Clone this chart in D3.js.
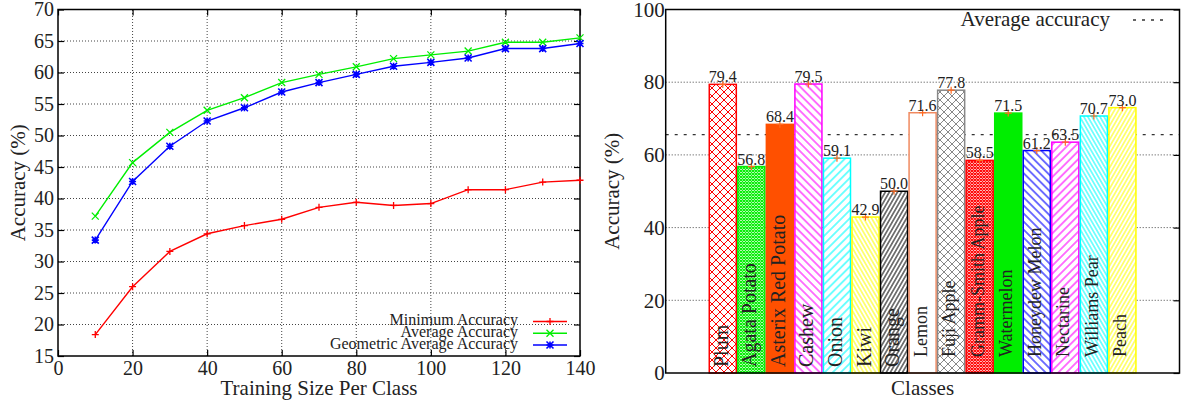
<!DOCTYPE html>
<html><head><meta charset="utf-8">
<script src="https://cdn.jsdelivr.net/npm/d3@7"></script>
<style>
html,body{margin:0;padding:0;background:#fff;}
svg{display:block;font-family:"Liberation Serif","Times New Roman",serif;}
</style></head>
<body>
<svg id="c" width="1181" height="404"></svg>
<script>
// ---------- data ----------
const trainSizes = [10,20,30,40,50,60,70,80,90,100,110,120,130,140];
const minAcc = [18.4,26.0,31.6,34.4,35.7,36.7,38.6,39.4,38.9,39.2,41.4,41.4,42.6,42.9];
const avgAcc = [37.2,45.7,50.5,54.0,56.0,58.4,59.7,60.9,62.2,62.8,63.4,64.8,64.8,65.5];
const geoAcc = [33.4,42.7,48.3,52.3,54.4,56.9,58.4,59.7,61.0,61.6,62.3,63.8,63.8,64.6];
const seriesNames = ["Minimum Accuracy","Average Accuracy","Geometric Average Accuracy"];
const leftYTicks = [15,20,25,30,35,40,45,50,55,60,65,70];
const leftXTicks = [0,20,40,60,80,100,120,140];

const classes = ["Plum","Agata Potato","Asterix Red Potato","Cashew","Onion","Kiwi","Orange","Lemon","Fuji Apple","Gramm-Smith Apple","Watermelon","Honeydew Melon","Nectarine","Williams Pear","Peach"];
const classAcc = [79.4,56.8,68.4,79.5,59.1,42.9,50.0,71.6,77.8,58.5,71.5,61.2,63.5,70.7,73.0];
const rightYTicks = [0,20,40,60,80,100];

// ---------- styles ----------
const svg = d3.select("#c");
const FONT = "Liberation Serif";
const txt = "#222";

// ================= LEFT CHART =================
const lx = d3.scaleLinear().domain([0,140]).range([58,580]);
const ly = d3.scaleLinear().domain([15,70]).range([356,9.5]);
const L = svg.append("g");

// grid
L.selectAll(".gy").data(leftYTicks.filter(d=>d>15 && d<70)).join("line")
  .attr("x1",lx(0)).attr("x2",lx(140)).attr("y1",d=>ly(d)).attr("y2",d=>ly(d))
  .attr("stroke","#444").attr("stroke-width",1).attr("stroke-dasharray","1,2");
L.selectAll(".gx").data(leftXTicks.filter(d=>d>0 && d<140)).join("line")
  .attr("x1",d=>lx(d)).attr("x2",d=>lx(d)).attr("y1",ly(15)).attr("y2",ly(70))
  .attr("stroke","#444").attr("stroke-width",1).attr("stroke-dasharray","1,2");

// axes
const lAxL = L.append("g").attr("transform",`translate(${lx(0)},0)`)
  .call(d3.axisLeft(ly).tickValues(leftYTicks).tickSize(-6).tickPadding(4).tickFormat(d3.format("d")));
const lAxR = L.append("g").attr("transform",`translate(${lx(140)},0)`)
  .call(d3.axisRight(ly).tickValues(leftYTicks).tickSize(-6).tickFormat(""));
const lAxB = L.append("g").attr("transform",`translate(0,${ly(15)})`)
  .call(d3.axisBottom(lx).tickValues(leftXTicks).tickSize(-6).tickPadding(5).tickFormat(d3.format("d")));
const lAxT = L.append("g").attr("transform",`translate(0,${ly(70)})`)
  .call(d3.axisTop(lx).tickValues(leftXTicks).tickSize(-6).tickFormat(""));
[lAxL,lAxR,lAxB,lAxT].forEach(a=>{
  a.select(".domain").remove();
  a.selectAll(".tick line").attr("stroke","#000").attr("stroke-width",1.2);
  a.selectAll("text").attr("font-family",FONT).attr("font-size",20).attr("fill",txt);
});
L.append("rect").attr("x",lx(0)).attr("y",ly(70)).attr("width",lx(140)-lx(0)).attr("height",ly(15)-ly(70))
  .attr("fill","none").attr("stroke","#000").attr("stroke-width",1.5);

// labels
L.append("text").attr("transform",`translate(25,${(ly(15)+ly(70))/2}) rotate(-90)`)
  .attr("text-anchor","middle").attr("font-family",FONT).attr("font-size",21).attr("fill",txt).text("Accuracy (%)");
L.append("text").attr("x",(lx(0)+lx(140))/2).attr("y",395)
  .attr("text-anchor","middle").attr("font-family",FONT).attr("font-size",21).attr("fill",txt).text("Training Size Per Class");

// series
const series = [
  {name:seriesNames[0], vals:minAcc, color:"#ff0000", mk:"plus"},
  {name:seriesNames[1], vals:avgAcc, color:"#00ee00", mk:"x"},
  {name:seriesNames[2], vals:geoAcc, color:"#0000ff", mk:"star"},
];
function marker(g, x, y, type, color){
  const s = 3.5;
  const p = d3.path();
  if(type==="plus"||type==="star"){ p.moveTo(x-s,y); p.lineTo(x+s,y); p.moveTo(x,y-s); p.lineTo(x,y+s); }
  if(type==="x"||type==="star"){ p.moveTo(x-s,y-s); p.lineTo(x+s,y+s); p.moveTo(x-s,y+s); p.lineTo(x+s,y-s); }
  g.append("path").attr("d",p.toString()).attr("stroke",color).attr("stroke-width",type==="star"?1.6:1.3).attr("fill","none");
}
series.forEach(s=>{
  const line = d3.line().x((d,i)=>lx(trainSizes[i])).y(d=>ly(d));
  L.append("path").datum(s.vals).attr("d",line).attr("fill","none").attr("stroke",s.color).attr("stroke-width",1.4);
  s.vals.forEach((v,i)=>marker(L,lx(trainSizes[i]),ly(v),s.mk,s.color));
});

// legend
const legY = [321.5,333.3,345];
series.forEach((s,i)=>{
  L.append("text").attr("x",518).attr("y",legY[i]+3.5).attr("text-anchor","end")
    .attr("font-family",FONT).attr("font-size",16).attr("fill",txt).text(s.name);
  L.append("line").attr("x1",533).attr("x2",567).attr("y1",legY[i]).attr("y2",legY[i])
    .attr("stroke",s.color).attr("stroke-width",1.4);
  marker(L,550,legY[i],s.mk,s.color);
});

// ================= RIGHT CHART =================
const rx = d3.scaleLinear().domain([-2,16]).range([665.7,1179.5]);
const ry = d3.scaleLinear().domain([0,100]).range([373,9.5]);
const R = svg.append("g");
const defs = svg.append("defs");

function pLines(id,color,spacing,angle,sw){
  const p = defs.append("pattern").attr("id",id).attr("patternUnits","userSpaceOnUse")
    .attr("width",spacing).attr("height",10).attr("patternTransform",`rotate(${angle})`);
  p.append("rect").attr("width",spacing).attr("height",10).attr("fill","#fff");
  p.append("line").attr("x1",spacing/2).attr("x2",spacing/2).attr("y1",0).attr("y2",10)
    .attr("stroke",color).attr("stroke-width",sw);
}
function pCross(id,color,size,sw){
  const p = defs.append("pattern").attr("id",id).attr("patternUnits","userSpaceOnUse")
    .attr("width",size).attr("height",size);
  p.append("rect").attr("width",size).attr("height",size).attr("fill","#fff");
  p.append("path").attr("d",`M0,0L${size},${size}M0,${size}L${size},0`)
    .attr("stroke",color).attr("stroke-width",sw);
}
const barStyle = [
  {c:"#ff0000", f:()=>{pCross("p0","#ff0000",8,1); return "url(#p0)";}},
  {c:"#00ee00", f:()=>{pCross("p1","#00ee00",3,1.1); return "url(#p1)";}},
  {c:"#ff5000", f:()=>"#ff5000"},
  {c:"#ff00ff", f:()=>{pLines("p3","#ff00ff",5.7,-45,1.1); return "url(#p3)";}},
  {c:"#00ffff", f:()=>{pLines("p4","#00ffff",5.7,45,1.1); return "url(#p4)";}},
  {c:"#ffff00", f:()=>{pLines("p5","#ffff00",3.5,-30,1); return "url(#p5)";}},
  {c:"#000000", f:()=>{pLines("p6","#000000",3.5,30,1); return "url(#p6)";}},
  {c:"#f08a60", f:()=>"#fff"},
  {c:"#888888", f:()=>{pCross("p8","#888888",8,1); return "url(#p8)";}},
  {c:"#ff0000", f:()=>{pCross("p9","#ff0000",3,1.1); return "url(#p9)";}},
  {c:"#00ee00", f:()=>"#00ee00"},
  {c:"#0000ff", f:()=>{pLines("p11","#0000ff",5.7,-45,1.1); return "url(#p11)";}},
  {c:"#ff00ff", f:()=>{pLines("p12","#ff00ff",5.7,45,1.1); return "url(#p12)";}},
  {c:"#00ffff", f:()=>{pLines("p13","#00ffff",3.5,-30,1); return "url(#p13)";}},
  {c:"#ffff00", f:()=>{pLines("p14","#ffff00",3.5,30,1); return "url(#p14)";}},
];
const fills = barStyle.map(b=>b.f());

// grid
R.selectAll(".gy").data(rightYTicks.filter(d=>d>0 && d<100)).join("line")
  .attr("x1",rx(-2)).attr("x2",rx(16)).attr("y1",d=>ry(d)).attr("y2",d=>ry(d))
  .attr("stroke","#444").attr("stroke-width",1).attr("stroke-dasharray","1,2");

// axes
const rAxL = R.append("g").attr("transform",`translate(${rx(-2)},0)`)
  .call(d3.axisLeft(ry).tickValues(rightYTicks).tickSize(0).tickPadding(1).tickFormat(d3.format("d")));
const rAxR = R.append("g").attr("transform",`translate(${rx(16)},0)`)
  .call(d3.axisRight(ry).tickValues(rightYTicks).tickSize(-6).tickFormat(""));
[rAxL,rAxR].forEach(a=>{
  a.select(".domain").remove();
  a.selectAll(".tick line").attr("stroke","#000").attr("stroke-width",1.2);
  a.selectAll("text").attr("font-family",FONT).attr("font-size",21).attr("fill",txt);
});

// average line
const avg = d3.mean(classAcc);
R.append("line").attr("x1",rx(-2)).attr("x2",rx(16)).attr("y1",ry(avg)).attr("y2",ry(avg))
  .attr("stroke","#333").attr("stroke-width",1.3).attr("stroke-dasharray","3,6");

// bars
R.selectAll(".bar").data(classAcc).join("rect")
  .attr("x",(d,i)=>rx(i-0.5)+0.75).attr("width",rx(0.5)-rx(-0.5)-1.5)
  .attr("y",d=>ry(d)).attr("height",d=>ry(0)-ry(d))
  .attr("fill",(d,i)=>fills[i]).attr("stroke",(d,i)=>barStyle[i].c).attr("stroke-width",1.5);

// value labels, markers, class names
classAcc.forEach((v,i)=>{
  const cx = rx(i), cy = ry(v);
  R.append("path").attr("d",`M${cx-3.5},${cy}L${cx+3.5},${cy}M${cx},${cy-3.5}L${cx},${cy+3.5}`)
    .attr("stroke","#ff6a20").attr("stroke-width",1.2);
  R.append("text").attr("x",cx).attr("y",cy-2).attr("text-anchor","middle")
    .attr("font-family",FONT).attr("font-size",16).attr("fill",txt).text(v.toFixed(1));
  const first = i < 7;
  R.append("text").attr("transform",`translate(${cx+(first?5:4)},${ry(0)-(first?6:16)}) rotate(-90)`)
    .attr("font-family",FONT).attr("font-size",first?20:18).attr("fill",txt).text(classes[i]);
});

// frame
R.append("rect").attr("x",rx(-2)).attr("y",ry(100)).attr("width",rx(16)-rx(-2)).attr("height",ry(0)-ry(100))
  .attr("fill","none").attr("stroke","#000").attr("stroke-width",1.5);

// legend
R.append("text").attr("x",1110).attr("y",26).attr("text-anchor","end")
  .attr("font-family",FONT).attr("font-size",21).attr("fill",txt).text("Average accuracy");
R.append("line").attr("x1",1133).attr("x2",1168).attr("y1",20).attr("y2",20)
  .attr("stroke","#333").attr("stroke-width",1.3).attr("stroke-dasharray","3,6");

// labels
R.append("text").attr("transform",`translate(619,${(ry(0)+ry(100))/2}) rotate(-90)`)
  .attr("text-anchor","middle").attr("font-family",FONT).attr("font-size",21).attr("fill",txt).text("Accuracy (%)");
R.append("text").attr("x",(rx(-2)+rx(16))/2).attr("y",395)
  .attr("text-anchor","middle").attr("font-family",FONT).attr("font-size",21).attr("fill",txt).text("Classes");
</script>
</body></html>
